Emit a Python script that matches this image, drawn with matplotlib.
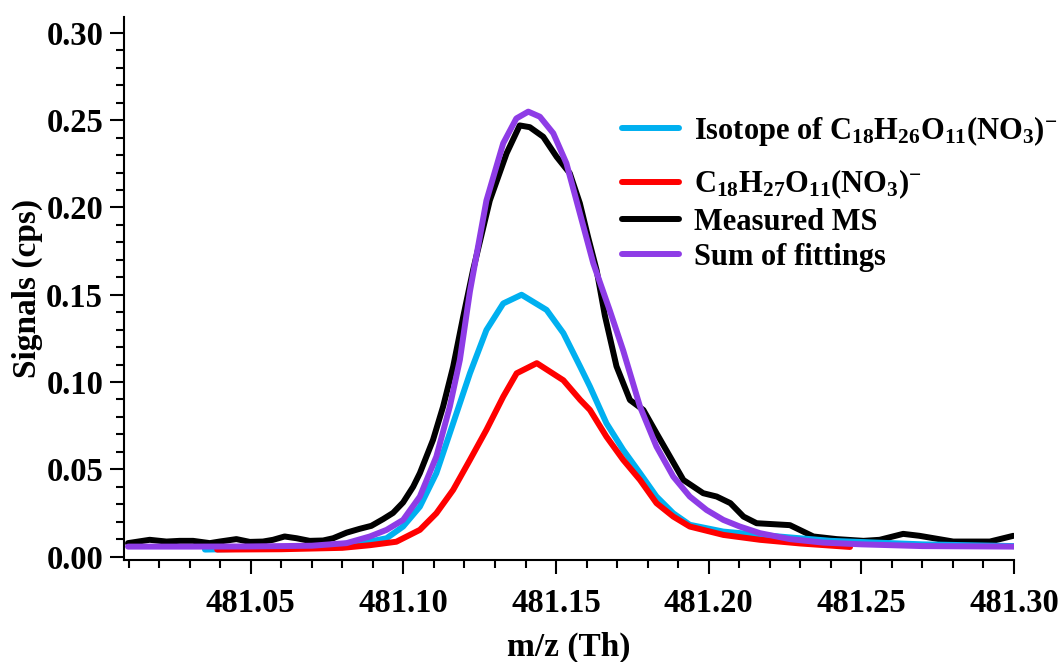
import numpy as np
import matplotlib
matplotlib.use("Agg")
import matplotlib.pyplot as plt
from matplotlib.ticker import MultipleLocator

plt.rcParams['font.family'] = ['Liberation Serif', 'DejaVu Serif']
plt.rcParams['font.weight'] = 'bold'
plt.rcParams['mathtext.fontset'] = 'custom'
plt.rcParams['mathtext.rm'] = 'Liberation Serif:bold'
plt.rcParams['mathtext.it'] = 'Liberation Serif:bold'
plt.rcParams['mathtext.bf'] = 'Liberation Serif:bold'

# measured mass spectrum
mz_meas = [481.0098, 481.0169, 481.0224, 481.0267, 481.0311, 481.0366, 481.0398, 481.0453,
           481.0497, 481.0540, 481.0573, 481.0611, 481.0650, 481.0693, 481.0737, 481.0770,
           481.0814, 481.0857, 481.0895, 481.0934, 481.0966, 481.0999, 481.1032, 481.1054,
           481.1097, 481.1130, 481.1163, 481.1196, 481.1228, 481.1283, 481.1338, 481.1381,
           481.1414, 481.1458, 481.1502, 481.1545, 481.1578, 481.1605, 481.1633, 481.1660,
           481.1698, 481.1742, 481.1786, 481.1829, 481.1873, 481.1917, 481.1982, 481.2026,
           481.2071, 481.2114, 481.2157, 481.2266, 481.2343, 481.2419, 481.2507, 481.2560,
           481.2637, 481.2690, 481.2801, 481.2921, 481.2998]
sig_meas = [0.0077, 0.0096, 0.0086, 0.0090, 0.0090, 0.0077, 0.0086, 0.0100,
            0.0084, 0.0086, 0.0096, 0.0115, 0.0105, 0.0090, 0.0092, 0.0105,
            0.0137, 0.0159, 0.0176, 0.0215, 0.0250, 0.0310, 0.0400, 0.0478,
            0.0668, 0.0859, 0.1088, 0.1375, 0.1640, 0.2040, 0.2310, 0.2470,
            0.2460, 0.2405, 0.2290, 0.2196, 0.2024, 0.1830, 0.1640, 0.1380,
            0.1090, 0.0897, 0.0840, 0.0707, 0.0573, 0.0439, 0.0363, 0.0344,
            0.0306, 0.0229, 0.0191, 0.0180, 0.0115, 0.0100, 0.0090, 0.0096,
            0.0130, 0.0119, 0.0086, 0.0086, 0.0119]

# isotope of C18H26O11(NO3)-
mz_iso = [481.0350, 481.0500, 481.0700, 481.0890, 481.0945, 481.0999, 481.1054, 481.1108,
          481.1163, 481.1218, 481.1272, 481.1327, 481.1387, 481.1469, 481.1524, 481.1579,
          481.1611, 481.1665, 481.1720, 481.1775, 481.1829, 481.1884, 481.1938, 481.2048,
          481.2168, 481.2400, 481.2700, 481.3000]
sig_iso = [0.0040, 0.0045, 0.0055, 0.0086, 0.0105, 0.0172, 0.0286, 0.0478,
           0.0764, 0.1050, 0.1298, 0.1450, 0.1500, 0.1413, 0.1280, 0.1088,
           0.0974, 0.0764, 0.0611, 0.0478, 0.0344, 0.0248, 0.0182, 0.0143,
           0.0124, 0.0090, 0.0070, 0.0060]

# C18H27O11(NO3)-
mz_main = [481.0390, 481.0600, 481.0800, 481.0890, 481.0977, 481.1054, 481.1108, 481.1163,
           481.1218, 481.1272, 481.1327, 481.1371, 481.1437, 481.1524, 481.1579, 481.1611,
           481.1665, 481.1720, 481.1775, 481.1829, 481.1884, 481.1938, 481.2048, 481.2168,
           481.2300, 481.2463]
sig_main = [0.0040, 0.0042, 0.0050, 0.0065, 0.0085, 0.0153, 0.0248, 0.0382,
            0.0554, 0.0726, 0.0916, 0.1050, 0.1108, 0.1010, 0.0898, 0.0840,
            0.0687, 0.0554, 0.0439, 0.0306, 0.0229, 0.0172, 0.0124, 0.0096,
            0.0075, 0.0055]

# sum of fittings
mz_sum = [481.0098, 481.0300, 481.0500, 481.0700, 481.0814, 481.0890, 481.0945, 481.0999,
          481.1054, 481.1108, 481.1152, 481.1185, 481.1218, 481.1272, 481.1327, 481.1370,
          481.1409, 481.1447, 481.1491, 481.1534, 481.1578, 481.1622, 481.1676, 481.1720,
          481.1775, 481.1829, 481.1884, 481.1938, 481.1993, 481.2048, 481.2102, 481.2168,
          481.2266, 481.2375, 481.2500, 481.2700, 481.3000]
sig_sum = [0.0057, 0.0057, 0.0058, 0.0062, 0.0077, 0.0115, 0.0153, 0.0210,
           0.0344, 0.0573, 0.0859, 0.1127, 0.1520, 0.2040, 0.2368, 0.2510,
           0.2549, 0.2520, 0.2425, 0.2253, 0.1967, 0.1680, 0.1410, 0.1180,
           0.0859, 0.0630, 0.0458, 0.0344, 0.0267, 0.0210, 0.0172, 0.0134,
           0.0100, 0.0080, 0.0070, 0.0060, 0.0057]

lbl_iso = r'Isotope of C$_{18}$H$_{26}$O$_{11}$(NO$_3$)$^{-}$'
lbl_main = r'C$_{18}$H$_{27}$O$_{11}$(NO$_3$)$^{-}$'

fig = plt.figure(figsize=(10.62, 6.62), dpi=100)
ax = fig.add_axes([0.1168, 0.154, 0.838, 0.820])

lw = 4.3
style = dict(lw=lw, solid_joinstyle='round', solid_capstyle='round')
l_meas, = ax.plot(mz_meas, sig_meas, color='black', zorder=2, **style)
l_iso, = ax.plot(mz_iso, sig_iso, color='#00B0F0', zorder=3, **style)
l_main, = ax.plot(mz_main, sig_main, color='#FF0000', zorder=4, **style)
l_sum, = ax.plot(mz_sum, sig_sum, color='#8E3CE6', zorder=5, **style)

ax.set_xlim(481.0085, 481.30)
ax.set_ylim(-0.002, 0.309)
ax.xaxis.set_major_locator(MultipleLocator(0.05))
ax.xaxis.set_minor_locator(MultipleLocator(0.01))
ax.yaxis.set_major_locator(MultipleLocator(0.05))
ax.yaxis.set_minor_locator(MultipleLocator(0.01))
ax.xaxis.set_major_formatter(plt.FormatStrFormatter('%.2f'))
ax.yaxis.set_major_formatter(plt.FormatStrFormatter('%.2f'))

for s in ['top', 'right']:
    ax.spines[s].set_visible(False)
for s in ['left', 'bottom']:
    ax.spines[s].set_linewidth(1.5)

ax.tick_params(which='major', direction='out', length=10, width=1.5, labelsize=23.5)
ax.tick_params(which='minor', direction='out', length=5.5, width=1.5)
ax.tick_params(axis='x', which='major', pad=10)
ax.tick_params(axis='y', which='major', pad=5)
ax.set_xticks([481.05, 481.10, 481.15, 481.20, 481.25, 481.30])

ax.set_xlabel('m/z (Th)', fontsize=24, fontweight='bold', labelpad=9)
ax.set_ylabel('Signals (cps)', fontsize=24, fontweight='bold', labelpad=2)

# legend in two parts: the formula rows are spaced wider than the plain rows
leg_kw = dict(loc='upper left', frameon=False, fontsize=22, handlelength=1.85,
              handletextpad=0.5, borderpad=0, borderaxespad=0)
leg1 = fig.legend([l_iso, l_main], [lbl_iso, lbl_main],
                  bbox_to_anchor=(0.586, 0.828), labelspacing=0.65, **leg_kw)
leg2 = fig.legend([l_meas, l_sum], ['Measured MS', 'Sum of fittings'],
                  bbox_to_anchor=(0.586, 0.686), labelspacing=0.2, **leg_kw)
for lg in (leg1, leg2):
    for t in lg.get_texts():
        t.set_fontweight('bold')

fig.savefig('out.png', dpi=100)
